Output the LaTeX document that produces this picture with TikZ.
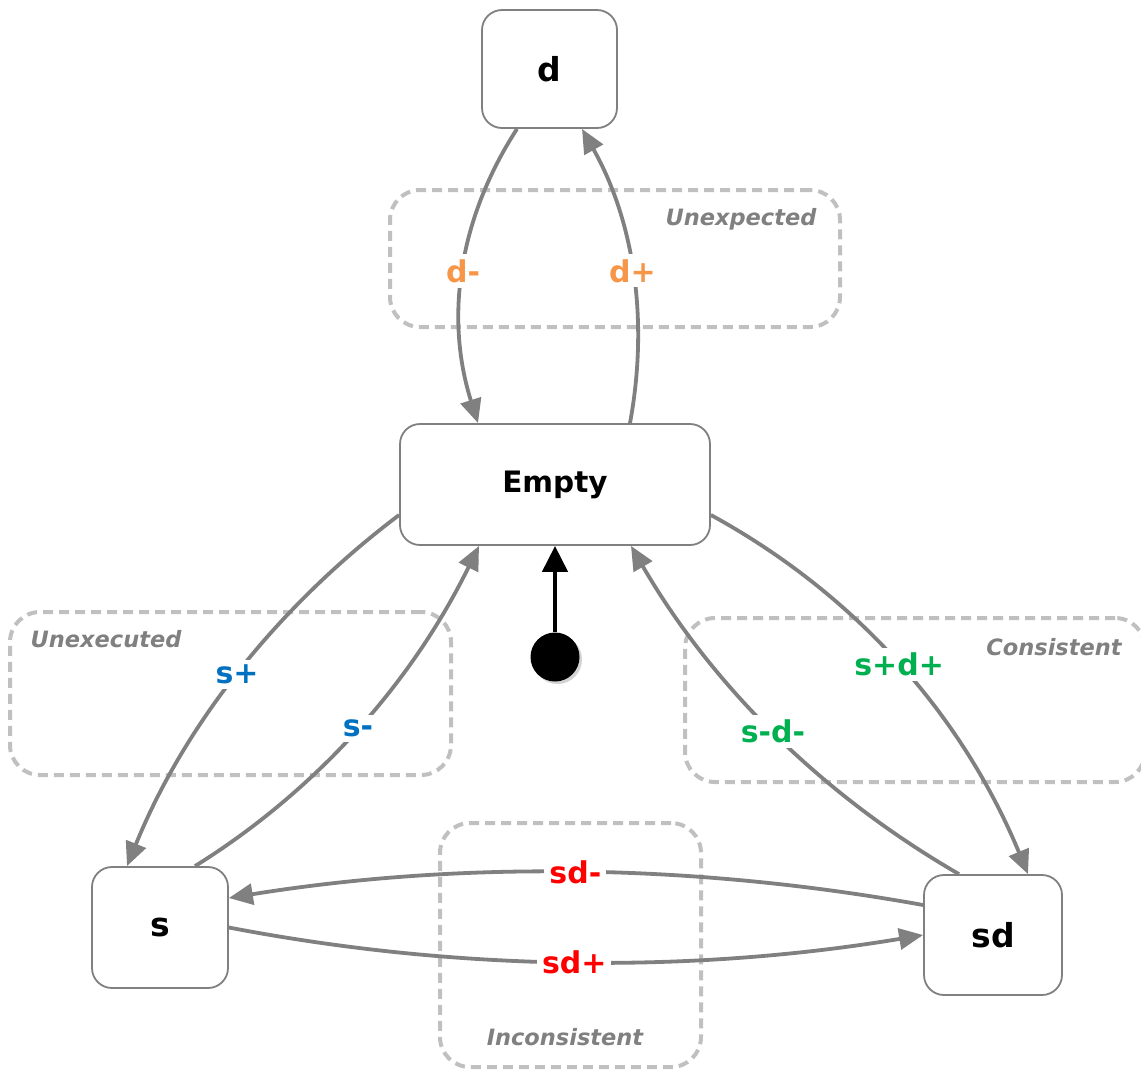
\documentclass[tikz,border=0pt]{standalone}
\usepackage{fontspec}
\setmainfont{DejaVu Sans}
\usetikzlibrary{arrows.meta,shadows}
\definecolor{edgegray}{HTML}{808080}
\definecolor{grpgray}{HTML}{C0C0C0}
\definecolor{lblorange}{HTML}{F79646}
\definecolor{lblblue}{HTML}{0070C0}
\definecolor{lblgreen}{HTML}{00B050}
\definecolor{lblred}{HTML}{FF0000}
\tikzset{
  state/.style={draw=edgegray, line width=1.8pt, rounded corners=20pt, fill=white,
    font=\fontsize{33}{38}\selectfont\bfseries, inner sep=0pt},
  bigstate/.style={state, font=\fontsize{29.5}{34}\selectfont\bfseries},
  group/.style={draw=grpgray, line width=4pt, dash pattern=on 10pt off 6pt,
    rounded corners=30pt, inner sep=0pt},
  grplabel/.style={text=edgegray, font=\fontsize{22.5}{27}\selectfont\bfseries\itshape, inner sep=0pt},
  trans/.style={draw=edgegray, line width=3.8pt, -{Triangle[length=24pt,width=21pt]}},
  lbl/.style={fill=white, inner xsep=5pt, inner ysep=5pt, font=\fontsize{30}{35}\selectfont\bfseries},
}
\begin{document}
\begin{tikzpicture}[x=1pt,y=-1pt]
\useasboundingbox (0,0) rectangle (1141,1069);
% groups
\node[group, minimum width=450pt, minimum height=137pt] (gUnexp) at (615,258.5) {};
\node[group, minimum width=441pt, minimum height=163pt] (gUnexec) at (230.5,693.5) {};
\node[group, minimum width=460pt, minimum height=164pt] (gCons) at (915,700) {};
\node[group, minimum width=261pt, minimum height=244pt] (gIncons) at (570.5,945) {};
\node[grplabel] (tUnexp) at (741,219) {Unexpected};
\node[grplabel] (tUnexec) at (106,639) {Unexecuted};
\node[grplabel] (tCons) at (1054,647) {Consistent};
\node[grplabel] (tIncons) at (565,1037) {Inconsistent};
% states
\node[state, minimum width=135pt, minimum height=118pt] (d) at (549.5,69) {d};
\node[bigstate, minimum width=310pt, minimum height=121pt] (Empty) at (555,484.5) {Empty};
\node[state, minimum width=136pt, minimum height=121pt] (s) at (160,927.5) {s};
\node[state, minimum width=138pt, minimum height=120pt] (sd) at (993,935) {sd};
% initial
\node[circle, fill=black, minimum size=49pt, inner sep=0pt,
  drop shadow={shadow xshift=2.5pt, shadow yshift=-2.5pt, opacity=0.35}] (init) at (555,657) {};
\draw[line width=4.5pt, -{Triangle[length=26pt,width=25pt]}] (init.north) -- (Empty.south);
% transitions
\draw[trans] ([xshift=-32.5pt]d.south) .. controls (458,220) and (445,318.7) .. ([xshift=-77pt]Empty.north)
  node[lbl, pos=0.5, text=lblorange] {d-};
\draw[trans] ([xshift=75pt]Empty.north) .. controls (649.3,318.3) and (633.3,220) .. ([xshift=32.5pt]d.south)
  node[lbl, pos=0.5, text=lblorange] {d+};
\draw[trans] ([yshift=-30.5pt]Empty.west) .. controls (273.7,609.7) and (183,728.3) .. ([xshift=-33pt]s.north)
  node[lbl, pos=0.5, text=lblblue] {s+};
\draw[trans] ([xshift=35pt]s.north) .. controls (317.7,789.7) and (412.3,681.7) .. ([xshift=-76pt]Empty.south)
  node[lbl, pos=0.5, text=lblblue] {s-};
\draw[trans] ([yshift=-30.5pt]Empty.east) .. controls (856,594.3) and (962,715) .. ([xshift=35pt]sd.north)
  node[lbl, pos=0.5, text=lblgreen] {s+d+};
\draw[trans] ([xshift=-34pt]sd.north) .. controls (820.3,794) and (711,684) .. ([xshift=76pt]Empty.south)
  node[lbl, pos=0.5, text=lblgreen] {s-d-};
\draw[trans] ([yshift=30pt]sd.west) .. controls (692,863.3) and (458.3,861) .. ([yshift=29.5pt]s.east)
  node[lbl, pos=0.5, text=lblred] {sd-};
\draw[trans] (s.east) .. controls (457,971.3) and (690.3,973.7) .. (sd.west)
  node[lbl, pos=0.5, text=lblred] {sd+};
\end{tikzpicture}
\end{document}
